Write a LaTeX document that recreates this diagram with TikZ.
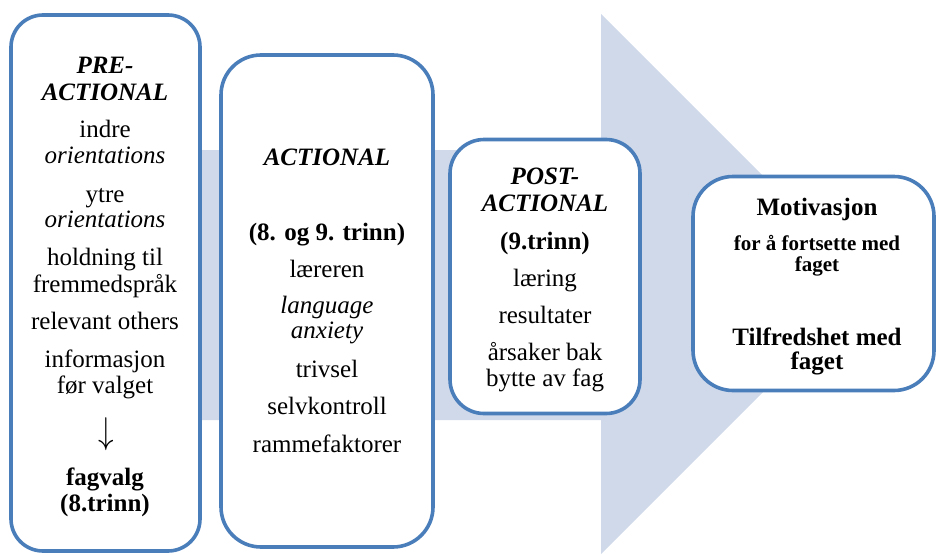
\documentclass[tikz,border=0pt]{standalone}
\usepackage{fontspec}
\setmainfont{Liberation Serif}
\definecolor{edgeblue}{HTML}{4A7EBB}
\definecolor{bandblue}{HTML}{CFD9EA}
\begin{document}
\begin{tikzpicture}[x=1pt,y=-1pt,
  stage/.style={draw=edgeblue, line width=3.6pt, fill=white, inner sep=0pt},
  ln/.style={anchor=base, inner sep=0pt, font=\fontsize{25}{28}\selectfont},
  lnb/.style={ln, font=\fontsize{25}{28}\selectfont\bfseries},
  lnbi/.style={ln, font=\fontsize{25}{28}\selectfont\bfseries\itshape},
  lni/.style={ln, font=\fontsize{25}{28}\selectfont\itshape},
  lnsmall/.style={ln, font=\fontsize{21}{24}\selectfont\bfseries}]
\clip (0,0) rectangle (936,554);
% background block arrow
\fill[bandblue] (100,150) -- (601,150) -- (601,14) -- (871,284) -- (601,554) -- (601,420) -- (100,420) -- cycle;
% stage boxes
\node[stage, rounded corners=32pt, minimum width=189pt, minimum height=536pt] (pre) at (105.5,283) {};
\node[stage, rounded corners=40pt, minimum width=212pt, minimum height=492pt] (act) at (327,301) {};
\node[stage, rounded corners=34pt, minimum width=190pt, minimum height=274pt] (post) at (545,276.5) {};
\node[stage, rounded corners=40pt, minimum width=241pt, minimum height=214pt] (mot) at (813.5,283.5) {};
% box 1
\node[lnbi] (p1) at (105,73) {PRE-};
\node[lnbi] (p2) at (105,100) {ACTIONAL};
\node[ln] (p3) at (105,137) {indre};
\node[lni] (p4) at (105,163) {orientations};
\node[ln] (p5) at (105,202) {ytre};
\node[lni] (p6) at (105,227) {orientations};
\node[ln] (p7) at (105,265) {holdning til};
\node[ln] (p8) at (105,292) {fremmedspråk};
\node[ln] (p9) at (105,329) {relevant others};
\node[ln] (p10) at (105,367) {informasjon};
\node[ln] (p11) at (105,393) {før valget};
\node[anchor=center, inner sep=0pt] (p12) at (106,434) {\scalebox{1.25}[1.5]{\fontsize{25}{25}\selectfont$\downarrow$}};
\node[lnb] (p13) at (105,485) {fagvalg};
\node[lnb] (p14) at (105,511) {(8.trinn)};
% box 2
\node[lnbi] (a1) at (327,165) {ACTIONAL};
\node[lnb] (a2) at (327,240) {(8. og 9. trinn)};
\node[ln] (a3) at (327,277) {læreren};
\node[lni] (a4) at (327,313) {language};
\node[lni] (a5) at (327,338) {anxiety};
\node[ln] (a6) at (327,377) {trivsel};
\node[ln] (a7) at (327,414) {selvkontroll};
\node[ln] (a8) at (327,452) {rammefaktorer};
% box 3
\node[lnbi] (s1) at (545,184) {POST-};
\node[lnbi] (s2) at (545,211) {ACTIONAL};
\node[lnb] (s3) at (545,249) {(9.trinn)};
\node[ln] (s4) at (545,286) {læring};
\node[ln] (s5) at (545,323) {resultater};
\node[ln] (s6) at (545,360) {årsaker bak};
\node[ln] (s7) at (545,386) {bytte av fag};
% box 4
\node[lnb] (m1) at (817,215) {Motivasjon};
\node[lnsmall] (m2) at (817,250) {for å fortsette med};
\node[lnsmall] (m3) at (817,271) {faget};
\node[lnb] (m4) at (817,345) {Tilfredshet med};
\node[lnb] (m5) at (817,369) {faget};
\end{tikzpicture}
\end{document}
